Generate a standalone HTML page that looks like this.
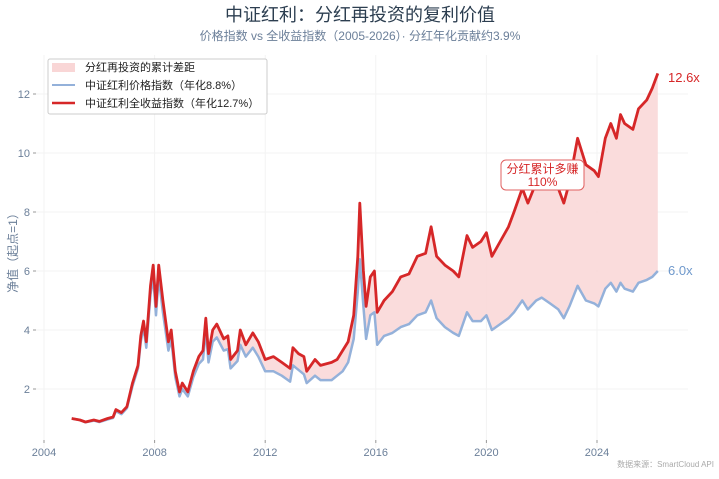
<!DOCTYPE html>
<html><head><meta charset="utf-8"><style>
body{margin:0;background:#fff;font-family:"Liberation Sans","Noto Sans CJK SC",sans-serif;}
svg text{font-family:"Liberation Sans","Noto Sans CJK SC",sans-serif;}
</style></head><body>
<svg id="chart" width="719" height="474" viewBox="0 0 719 474" xmlns="http://www.w3.org/2000/svg">
<text x="360" y="21" text-anchor="middle" font-size="18" fill="#2c3e50">中证红利：分红再投资的复利价值</text>
<text x="360" y="40" text-anchor="middle" font-size="12" fill="#6b7f99">价格指数 vs 全收益指数（2005-2026）· 分红年化贡献约3.9%</text>
<g id="grid"></g><g id="axes"></g><g id="series"></g>
<text transform="translate(17,250) rotate(-90)" text-anchor="middle" font-size="12" fill="#6b7f99">净值（起点=1）</text>
<g>
<rect x="501" y="160" width="83" height="30" rx="5" fill="#fff" stroke="#e06060" stroke-width="1"/>
<text x="542.5" y="173" text-anchor="middle" font-size="12" fill="#d62728">分红累计多赚</text>
<text x="542.5" y="186" text-anchor="middle" font-size="12" fill="#d62728">110%</text>
</g>
<text x="668" y="82" font-size="13" fill="#d62728">12.6x</text>
<text x="668" y="275" font-size="13" fill="#6f99cc">6.0x</text>
<g>
<rect x="48" y="59" width="219" height="55" fill="#fff" stroke="#ccc" stroke-width="1" rx="2"/>
<rect x="52" y="63" width="23" height="9" fill="#f9d6d6"/>
<text x="85" y="71" font-size="11" fill="#222">分红再投资的累计差距</text>
<line x1="52" y1="85" x2="75" y2="85" stroke="#94b1da" stroke-width="2"/>
<text x="85" y="89" font-size="11" fill="#222">中证红利价格指数（年化8.8%）</text>
<line x1="52" y1="103" x2="75" y2="103" stroke="#d62728" stroke-width="2.5"/>
<text x="85" y="107" font-size="11" fill="#222">中证红利全收益指数（年化12.7%）</text>
</g>
<text x="714" y="467" text-anchor="end" font-size="8" fill="#aaa">数据来源：SmartCloud API</text>
</svg>
<script>
const dates=[2005.0,2005.3,2005.5,2005.8,2006.0,2006.3,2006.5,2006.6,2006.8,2007.0,2007.2,2007.4,2007.5,2007.6,2007.7,2007.85,2007.95,2008.05,2008.15,2008.3,2008.5,2008.6,2008.75,2008.9,2009.0,2009.2,2009.4,2009.6,2009.75,2009.85,2009.95,2010.1,2010.25,2010.5,2010.65,2010.75,2011.0,2011.1,2011.3,2011.55,2011.75,2012.0,2012.3,2012.6,2012.9,2013.0,2013.2,2013.4,2013.5,2013.8,2014.0,2014.4,2014.6,2014.8,2015.0,2015.2,2015.35,2015.42,2015.55,2015.65,2015.8,2015.95,2016.05,2016.3,2016.6,2016.9,2017.2,2017.5,2017.8,2018.0,2018.2,2018.5,2018.8,2019.0,2019.3,2019.5,2019.8,2020.0,2020.2,2020.5,2020.8,2021.0,2021.3,2021.5,2021.8,2022.0,2022.3,2022.6,2022.8,2023.0,2023.3,2023.6,2023.9,2024.05,2024.3,2024.5,2024.7,2024.85,2025.0,2025.3,2025.5,2025.8,2026.0,2026.2];
const totalIdx=[1.0,0.95,0.88,0.95,0.9,1.0,1.05,1.3,1.2,1.4,2.2,2.8,3.8,4.3,3.6,5.5,6.2,4.8,6.2,5.0,3.6,4.0,2.6,1.9,2.2,1.9,2.6,3.1,3.3,4.4,3.2,4.0,4.2,3.7,3.8,3.0,3.3,4.0,3.5,3.9,3.6,3.0,3.1,2.9,2.7,3.4,3.2,3.1,2.6,3.0,2.8,2.9,3.0,3.3,3.6,4.5,6.5,8.3,6.0,4.8,5.8,6.0,4.6,5.0,5.3,5.8,5.9,6.5,6.6,7.5,6.5,6.2,6.0,5.8,7.2,6.8,7.0,7.3,6.5,7.0,7.5,8.0,8.8,8.3,9.0,9.2,9.0,8.8,8.3,9.0,10.5,9.6,9.4,9.2,10.5,11.0,10.5,11.3,11.0,10.8,11.5,11.8,12.2,12.7];
const priceIdx=[1.0,0.95,0.87,0.93,0.88,0.97,1.02,1.25,1.15,1.35,2.1,2.7,3.6,4.1,3.4,5.2,5.8,4.5,5.8,4.6,3.3,3.7,2.4,1.75,2.0,1.75,2.4,2.85,3.0,4.0,2.9,3.6,3.75,3.3,3.35,2.7,2.95,3.5,3.1,3.4,3.1,2.6,2.6,2.45,2.25,2.8,2.65,2.5,2.2,2.45,2.3,2.3,2.45,2.6,2.9,3.7,5.3,6.4,4.8,3.7,4.5,4.6,3.5,3.8,3.9,4.1,4.2,4.5,4.6,5.0,4.4,4.1,3.9,3.8,4.6,4.3,4.3,4.5,4.0,4.2,4.4,4.6,5.0,4.7,5.0,5.1,4.9,4.7,4.4,4.8,5.5,5.0,4.9,4.8,5.4,5.6,5.3,5.6,5.4,5.3,5.6,5.7,5.8,6.0];
const xTicks=[2004,2008,2012,2016,2020,2024];
const yTicks=[2,4,6,8,10,12];
const NS="http://www.w3.org/2000/svg";
const X=v=>44+(v-2004)*27.65;
const Y=v=>448-v*29.5;
function mk(tag,attrs,parent){const e=document.createElementNS(NS,tag);for(const k in attrs)e.setAttribute(k,attrs[k]);parent.appendChild(e);return e;}
const grid=document.getElementById('grid'),axes=document.getElementById('axes'),ser=document.getElementById('series');
yTicks.forEach(t=>{
 const g=mk('line',{x1:36,x2:688,y1:Y(t),y2:Y(t),stroke:'#f3f3f3','stroke-width':1},grid);
 
 
 const tk=mk('line',{x1:33,x2:36,y1:Y(t),y2:Y(t),stroke:'#999'},axes);
 
 
 const l=mk('text',{x:30,y:Y(t)+4,'text-anchor':'end','font-size':11,fill:'#6b7f99'},axes);l.textContent=t;
 
 
});
xTicks.forEach(t=>{
 const g=mk('line',{x1:X(t),x2:X(t),y1:55,y2:448,stroke:'#f3f3f3','stroke-width':1},grid);
 
 
 const tk=mk('line',{x1:X(t),x2:X(t),y1:440,y2:443,stroke:'#999'},axes);
 
 
 const l=mk('text',{x:X(t),y:456,'text-anchor':'middle','font-size':11,fill:'#6b7f99'},axes);l.textContent=t;
 
 
});
const topPts=dates.map((d,i)=>X(d).toFixed(1)+','+Y(totalIdx[i]).toFixed(1));
const botPts=dates.map((d,i)=>X(d).toFixed(1)+','+Y(priceIdx[i]).toFixed(1));
const area=mk('polygon',{points:topPts.concat(botPts.slice().reverse()).join(' '),fill:'#f9d6d6',opacity:0.85},ser);


const pl=mk('polyline',{points:botPts.join(' '),fill:'none',stroke:'#94b1da','stroke-width':2.5,'stroke-linejoin':'round'},ser);


const tl=mk('polyline',{points:topPts.join(' '),fill:'none',stroke:'#d62728','stroke-width':2.8,'stroke-linejoin':'round'},ser);


</script>
</body></html>
